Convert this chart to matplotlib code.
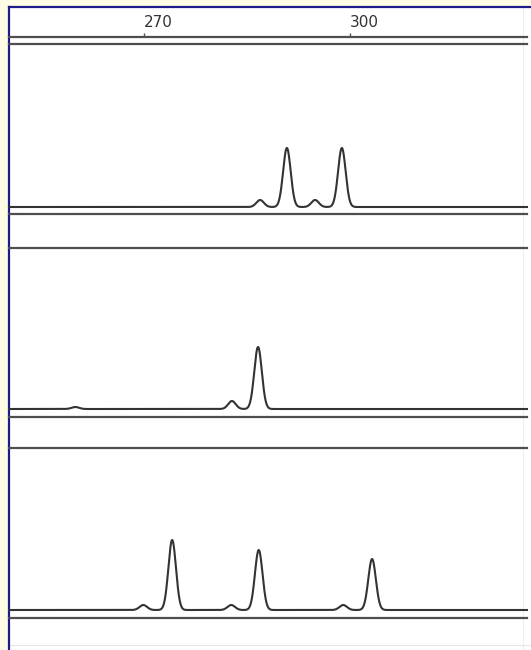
import numpy as np
import matplotlib
matplotlib.use("Agg")
import matplotlib.pyplot as plt

# fragment sizes (bp) and heights for each lane
lane1_pos = [286.9, 290.8, 294.9, 298.8]
lane1_height = [7, 59, 7, 59]
lane2_pos = [260.0, 282.8, 286.6]
lane2_height = [2, 8, 62]
lane3_pos = [269.9, 274.1, 282.7, 286.7, 299.0, 303.2]
lane3_height = [5, 70, 5, 60, 5, 51]
lane_width = [0.55, 0.55, 0.55]  # peak sigma, bp

ruler_ticks = [270, 300]

W, H = 531, 650
xmin = 270 - (144 - 9) / 6.87
xmax = xmin + (527 - 9) / 6.87

line_col = '#4e4e4e'
trace_col = '#333333'


def box(x0, y0, x1, y1):
    # pixel box -> figure fraction
    return [x0 / W, 1 - y1 / H, (x1 - x0) / W, (y1 - y0) / H]


def trace(pos, height, sigma, x):
    y = np.zeros_like(x)
    for p, h in zip(pos, height):
        y = y + h * np.exp(-0.5 * ((x - p) / sigma) ** 2)
    return y


fig = plt.figure(figsize=(W / 100, H / 100), dpi=100)
fig.patch.set_facecolor('#fefce4')

# white page with navy frame on left / top
bg = fig.add_axes(box(9, 7, 531, 650))
bg.set_facecolor('white')
bg.set_xlim(0, 1)
bg.set_ylim(0, 1)
bg.set_xticks([])
bg.set_yticks([])
for s in ['right', 'bottom']:
    bg.spines[s].set_visible(False)
for s in ['left', 'top']:
    bg.spines[s].set_color('#1c1c8a')
    bg.spines[s].set_linewidth(1.6)
bg.axhline(5 / 643, color='#e6e6e6', lw=0.8)
bg.axvline(514 / 522, color='#eeeeee', lw=0.8)

# size ruler on top
ruler = fig.add_axes(box(9, 37, 527, 44))
ruler.set_facecolor('none')
ruler.set_xlim(xmin, xmax)
ruler.set_yticks([])
for s in ['left', 'right', 'bottom']:
    ruler.spines[s].set_visible(False)
ruler.spines['top'].set_color(line_col)
ruler.spines['top'].set_linewidth(1.6)
ruler.xaxis.tick_top()
ruler.set_xticks(ruler_ticks)
ruler.tick_params(axis='x', direction='out', length=3, width=1, color=line_col,
                  pad=2, labelsize=11, labelcolor='#333333')
for lab in ruler.get_xticklabels():
    lab.set_ha('left')

x = np.linspace(xmin, xmax, 3000)
lanes = [
    (lane1_pos, lane1_height, lane_width[0], (44, 207, 214)),
    (lane2_pos, lane2_height, lane_width[1], (248, 409, 417)),
    (lane3_pos, lane3_height, lane_width[2], (448, 610, 618)),
]

for pos, height, sig, (top, base, bot) in lanes:
    ax = fig.add_axes(box(9, top, 527, bot))
    ax.set_facecolor('none')
    ax.set_xlim(xmin, xmax)
    ax.set_ylim(-(bot - base), base - top)
    ax.set_xticks([])
    ax.set_yticks([])
    for s in ['left', 'right']:
        ax.spines[s].set_visible(False)
    for s in ['top', 'bottom']:
        ax.spines[s].set_color(line_col)
        ax.spines[s].set_linewidth(1.6)
    ax.plot(x, trace(pos, height, sig, x), color=trace_col, lw=1.5,
            clip_on=False)

fig.savefig('out.png', dpi=100, facecolor=fig.get_facecolor())
